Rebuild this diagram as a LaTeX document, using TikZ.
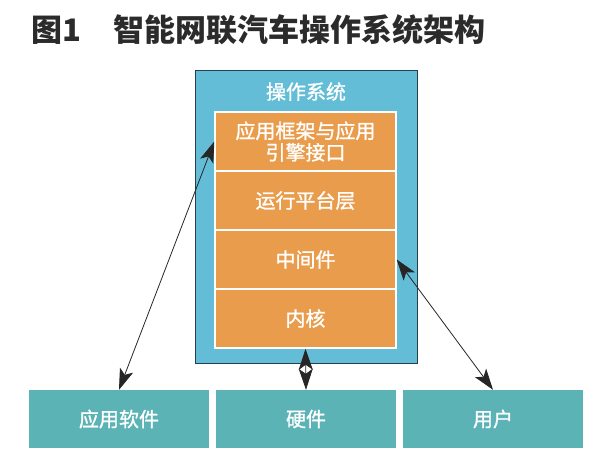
\documentclass[tikz,border=0pt]{standalone}
\usepackage{fontspec}
\setmainfont{Noto Sans CJK SC}
\newfontfamily\labelfont{Noto Sans CJK SC}[FakeBold=1.2]
\usetikzlibrary{arrows.meta,calc,positioning}
\definecolor{titlegray}{HTML}{2B2B2B}
\definecolor{osblue}{HTML}{63BDD6}
\definecolor{osedge}{HTML}{23404E}
\definecolor{layerorange}{HTML}{E99C4B}
\definecolor{extteal}{HTML}{5BB3B6}
\definecolor{arrowgray}{HTML}{262626}
\tikzset{osbox/.style={draw=osedge, fill=osblue, line width=0.8pt, minimum width=222pt, minimum height=293pt}}
\tikzset{layer/.style={draw=white, fill=layerorange, line width=1.5pt, text=white, node distance=59pt, minimum width=181pt, minimum height=59pt, align=center, font=\labelfont\fontsize{20}{21.5}\selectfont}}
\tikzset{extbox/.style={fill=extteal, text=white, node distance=187pt, minimum width=180pt, minimum height=58pt, font=\labelfont\fontsize{20}{24}\selectfont}}
\tikzset{link/.style={draw=arrowgray, line width=0.8pt, {Stealth[length=21pt,width=14pt,inset=5pt]}-{Stealth[length=21pt,width=14pt,inset=5pt]}}}

\begin{document}
\begin{tikzpicture}[x=1pt, y=-1pt]
\useasboundingbox (0,0) rectangle (600,453);

\node [anchor=west, inner sep=0pt, text=titlegray, font=\fontsize{31}{31}\selectfont\bfseries] (title) at (31,30) {图1\hspace{32pt}智能网联汽车操作系统架构};

%OPERATING SYSTEM
\node [osbox] (os) at (306,216.5) {};
\node [text=white, font=\labelfont\fontsize{20}{24}\selectfont] (ostitle) at ($(os.north)+(0,22)$) {操作系统};

\node [layer] (frame) at (305.5,141.5) {应用框架与应用\\引擎接口};
\node [layer, below of=frame] (runtime) {运行平台层};
\node [layer, below of=runtime] (middleware) {中间件};
\node [layer, below of=middleware] (kernel) {内核};

%OUTSIDE PARTS
\node [extbox] (appsw) at (119,419) {应用软件};
\node [extbox, right of=appsw] (hardware) {硬件};
\node [extbox, right of=hardware] (user) {用户};

%LINKS
\path [link] (frame.west) -- (appsw.north);
\path [link] (kernel.south) -- (hardware.north);
\path [link] (middleware.east) -- (user.north);

\end{tikzpicture}
\end{document}
